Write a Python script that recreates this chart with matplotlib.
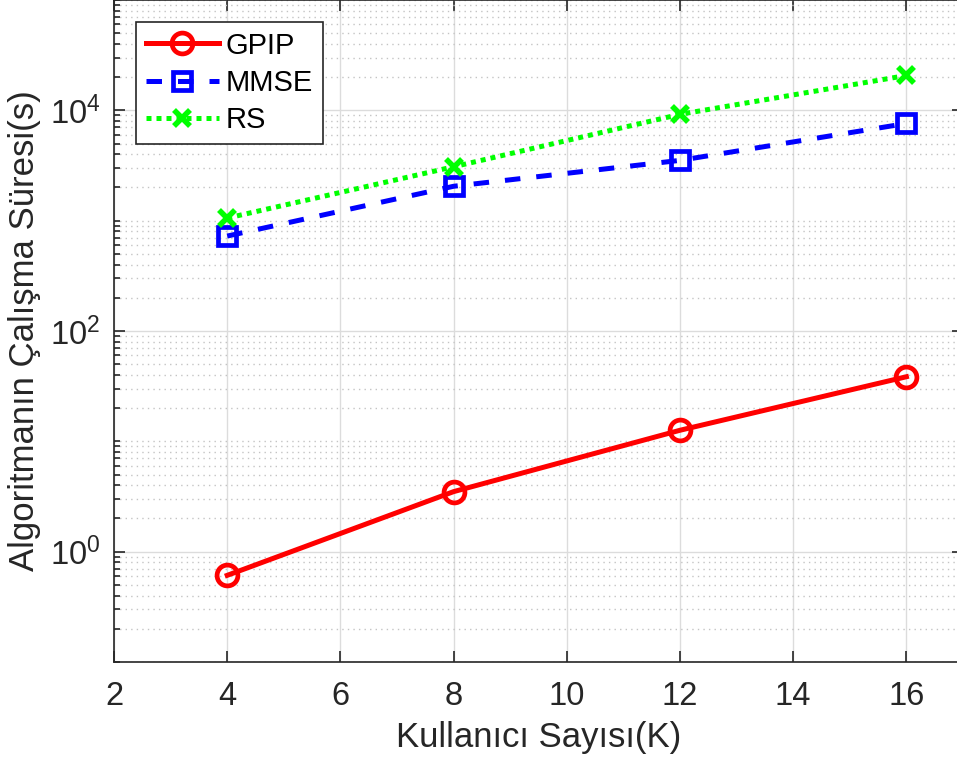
import matplotlib
matplotlib.use("Agg")
import matplotlib.pyplot as plt
from matplotlib.ticker import FixedLocator, LogLocator, FuncFormatter, NullFormatter
import numpy as np

plt.rcParams['font.family'] = ['Liberation Sans', 'DejaVu Sans']
plt.rcParams['mathtext.fontset'] = 'custom'
plt.rcParams['mathtext.rm'] = 'Liberation Sans'
plt.rcParams['mathtext.it'] = 'Liberation Sans'

# data
K = [4, 8, 12, 16]
gpip = [0.61, 3.5, 12.6, 38.5]
mmse = [725, 2050, 3520, 7600]
rs = [1055, 3080, 9200, 20700]

xticks = [2, 4, 6, 8, 10, 12, 14, 16]
yticks = [1e0, 1e2, 1e4]

dark = '#262626'

fig = plt.figure(figsize=(9.57, 7.65), dpi=100)
ax = fig.add_axes([114/957, 103/765, 849/957, 662/765])

ax.plot(K, gpip, color=(1, 0, 0), lw=3.6, marker='o', ms=15, mew=3.4,
        mfc='none', label='GPIP')
ax.plot(K, mmse, color=(0, 0, 1), lw=3.6, marker='s', ms=13, mew=3.4,
        mfc='none', dashes=(3.1, 3.2), label='MMSE')
ax.plot(K, rs, color=(0, 1, 0), lw=3.6, marker='x', ms=12, mew=4,
        dashes=(1, 1), label='RS')

ax.set_yscale('log')
ax.set_xlim(2, 17)
ax.set_ylim(1e-1, 1e5)
ax.set_xticks(xticks)
ax.yaxis.set_major_locator(FixedLocator(yticks))
ax.yaxis.set_minor_locator(LogLocator(base=10, subs=np.arange(1, 10), numticks=20))
ax.yaxis.set_minor_formatter(NullFormatter())
ax.yaxis.set_major_formatter(FuncFormatter(
    lambda v, p: r'$\mathregular{10^{%d}}$' % round(np.log10(v))))

ax.grid(True, which='major', color='#dcdcdc', lw=1, ls='-')
ax.grid(True, which='minor', axis='y', color='#c4c4c4', lw=1, ls=(0, (1, 3)))
ax.set_axisbelow(True)

ax.tick_params(which='both', direction='in', top=True, right=True,
               colors=dark, labelsize=23.5, width=1.2)
ax.tick_params(which='major', length=8)
ax.tick_params(axis='x', which='major', pad=14)
ax.tick_params(axis='y', which='major', pad=10)
ax.tick_params(which='minor', length=4.5)
for s in ax.spines.values():
    s.set_color(dark)
    s.set_linewidth(1.2)

ax.set_xlabel('Kullanıcı Sayısı(K)', fontsize=25, color=dark, labelpad=6)
ax.set_ylabel('Algoritmanın Çalışma Süresi(s)', fontsize=25, color=dark, labelpad=6)

leg = ax.legend(loc='upper left', bbox_to_anchor=(136/957, 1-22/765),
                bbox_transform=fig.transFigure, borderaxespad=0,
                fontsize=21, handlelength=2.5, handletextpad=0.25,
                labelspacing=0.32, borderpad=0.33, fancybox=False,
                framealpha=1, edgecolor=dark)
leg.get_frame().set_linewidth(1.2)

fig.savefig('out.png', dpi=100)
